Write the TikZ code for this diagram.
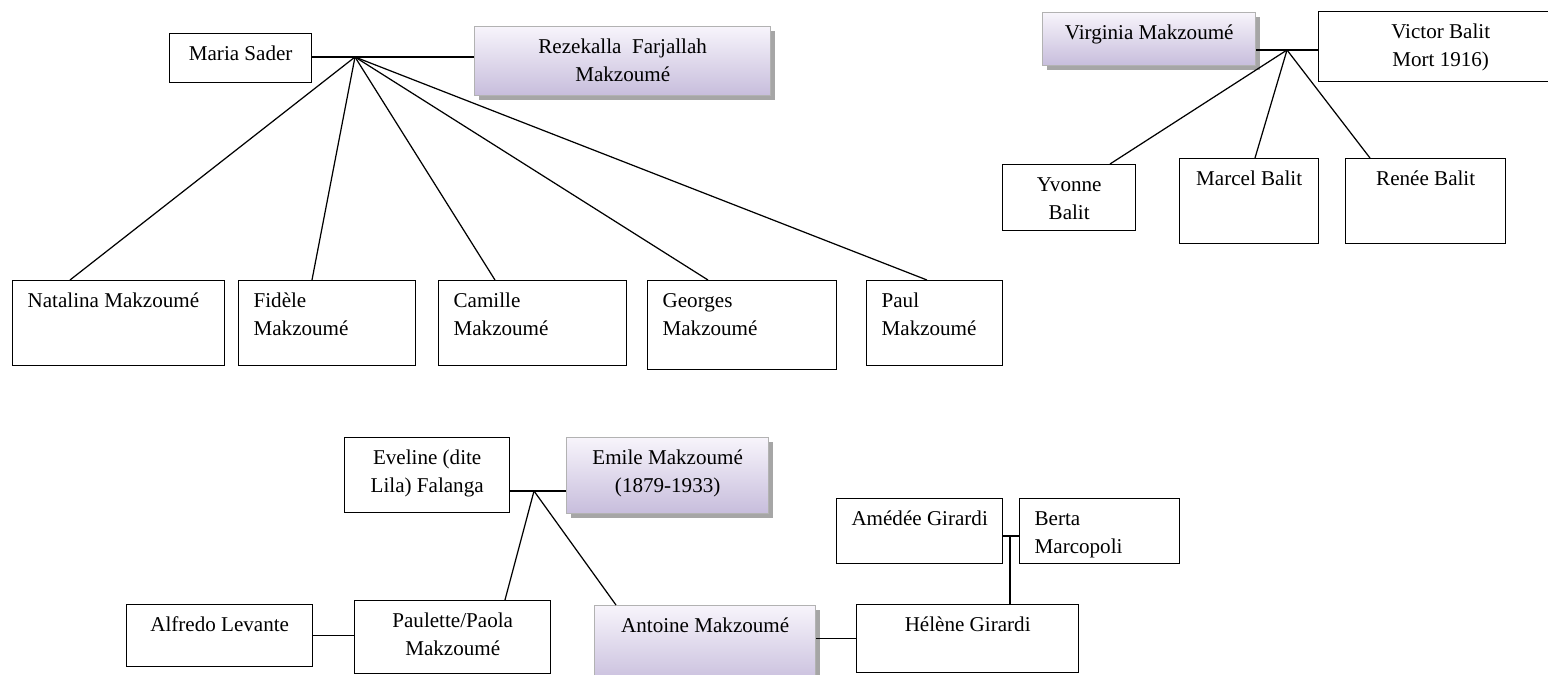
\documentclass[tikz,border=0pt]{standalone}
\usepackage{fontspec}
\setmainfont{Liberation Serif}
\usepackage{tikz}
\usetikzlibrary{shadows}

\newcommand{\centerT}[3]{\parbox[t][#2][t]{#1}{\centering\rule{0pt}{15pt}#3}}
\newcommand{\leftT}[3]{\parbox[t][#2][t]{#1}{\raggedright\leftskip=8.5pt\rule{0pt}{15pt}#3}}

\definecolor{lilacTop}{RGB}{247,244,251}
\definecolor{lilacBot}{RGB}{199,189,220}

\begin{document}
\begin{tikzpicture}
  [x=0.02cm,y=-0.02cm,
   personN/.style={draw,line width=0.8pt,inner sep=0pt,anchor=north west,
                   font=\fontsize{12}{16}\selectfont},
   parentN/.style={personN,draw=gray!60,top color=lilacTop,bottom color=lilacBot,
                   drop shadow={shadow xshift=2.2pt,shadow yshift=-2.2pt,fill=gray!70,opacity=1}},
   link/.style={line width=0.7pt}]

  \clip (0,0) rectangle (1548,674);

  % Rezekalla Farjallah and Maria Sader
  \node[personN] (maria)     at (169,33) {\centerT{2.84cm}{0.98cm}{Maria Sader}};
  \node[parentN] (rezekalla) at (474,26) {\centerT{5.92cm}{1.38cm}{Rezekalla\ \ Farjallah\\Makzoumé}};

  \node[personN] (natalina) at (12,280)  {\leftT{4.24cm}{1.70cm}{Natalina Makzoumé}};
  \node[personN] (fidele)   at (238,280) {\leftT{3.54cm}{1.70cm}{Fidèle\\Makzoumé}};
  \node[personN] (camille)  at (438,280) {\leftT{3.76cm}{1.70cm}{Camille\\Makzoumé}};
  \node[personN] (georges)  at (647,280) {\leftT{3.78cm}{1.78cm}{Georges\\Makzoumé}};
  \node[personN] (paul)     at (866,280) {\leftT{2.72cm}{1.70cm}{Paul\\Makzoumé}};

  \coordinate (makz) at (355,57);
  \draw[link] (makz -| maria.east) -- (makz -| rezekalla.west);
  \draw[link] (makz) -- ([xshift=1.16cm]natalina.north west);
  \draw[link] (makz) -- ([xshift=1.48cm]fidele.north west);
  \draw[link] (makz) -- ([xshift=1.14cm]camille.north west);
  \draw[link] (makz) -- ([xshift=1.22cm]georges.north west);
  \draw[link] (makz) -- ([xshift=1.22cm]paul.north west);

  % Virginia and Victor Balit
  \node[parentN] (virginia) at (1042,12) {\centerT{4.26cm}{1.06cm}{Virginia Makzoumé}};
  \node[personN] (victor)   at (1318,11) {\centerT{4.88cm}{1.40cm}{Victor Balit\\Mort 1916)}};

  \node[personN] (yvonne) at (1002,164) {\centerT{2.66cm}{1.32cm}{Yvonne\\Balit}};
  \node[personN] (marcel) at (1179,158) {\centerT{2.78cm}{1.70cm}{Marcel Balit}};
  \node[personN] (renee)  at (1345,158) {\centerT{3.20cm}{1.70cm}{Renée Balit}};

  \coordinate (balit) at (1287,50);
  \draw[link] (balit -| virginia.east) -- (balit -| victor.west);
  \draw[link] (balit) -- ([xshift=2.16cm]yvonne.north west);
  \draw[link] (balit) -- ([xshift=1.52cm]marcel.north west);
  \draw[link] (balit) -- ([xshift=0.50cm]renee.north west);

  % Emile and Eveline
  \node[personN] (eveline) at (344,437) {\centerT{3.30cm}{1.50cm}{Eveline (dite\\Lila) Falanga}};
  \node[parentN] (emile)   at (566,437) {\centerT{4.04cm}{1.52cm}{Emile Makzoumé\\(1879-1933)}};

  \node[personN] (alfredo)  at (126,604) {\centerT{3.72cm}{1.24cm}{Alfredo Levante}};
  \node[personN] (paulette) at (354,600) {\centerT{3.92cm}{1.46cm}{Paulette/Paola\\Makzoumé}};
  \node[parentN] (antoine)  at (594,605) {\centerT{4.42cm}{1.60cm}{Antoine Makzoumé}};

  \coordinate (emileM) at (534,491);
  \draw[link] (emileM -| eveline.east) -- (emileM -| emile.west);
  \draw[link] (emileM) -- ([xshift=3.02cm]paulette.north west);
  \draw[link] (emileM) -- ([xshift=0.44cm]antoine.north west);
  \draw[link] (alfredo.east) -- (alfredo.east -| paulette.west);

  % Girardi
  \node[personN] (amedee) at (836,498)  {\centerT{3.32cm}{1.30cm}{Amédée Girardi}};
  \node[personN] (berta)  at (1019,498) {\leftT{3.20cm}{1.30cm}{Berta\\Marcopoli}};
  \node[personN] (helene) at (856,604)  {\centerT{4.44cm}{1.36cm}{Hélène Girardi}};

  \coordinate (girardi) at (1010,536);
  \draw[link] (girardi -| amedee.east) -- (girardi -| berta.west);
  \draw[link] (girardi) -- (girardi |- helene.north);
  \draw[link] (helene.west -| antoine.east) -- (helene.west);

\end{tikzpicture}
\end{document}
